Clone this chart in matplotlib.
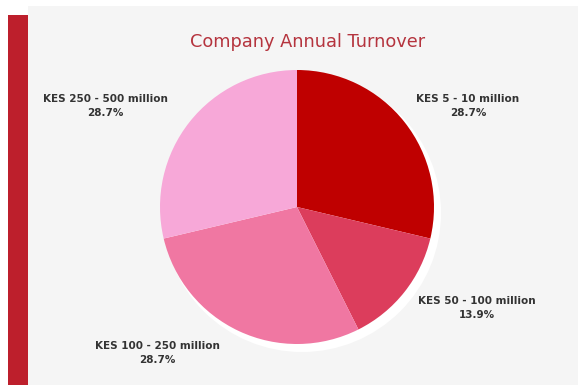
import matplotlib.pyplot as plt
from matplotlib.patches import Rectangle, Circle

# data
labels = ["KES 5 - 10 million", "KES 50 - 100 million",
          "KES 100 - 250 million", "KES 250 - 500 million"]
shares = [28.7, 13.9, 28.7, 28.7]
colors = ["#bf0000", "#dc3d5c", "#f077a2", "#f7a8d8"]

W, H = 578, 385
fig = plt.figure(figsize=(W / 100, H / 100), dpi=100)
fig.patch.set_facecolor("white")
ax = fig.add_axes([0, 0, 1, 1])

# background panel and left red bar
ax.add_patch(Rectangle((28, 0), W - 28, H - 6, facecolor="#f5f5f5", edgecolor="none", zorder=0))
ax.add_patch(Rectangle((8, 0), 20, H - 15, facecolor="#bd1f2c", edgecolor="none", zorder=0))

cx, cy, r = 297, H - 207, 137

# white shadow behind pie
ax.add_patch(Circle((cx + 5, cy - 6), r + 2, facecolor="white", edgecolor="none", zorder=1))

wedges, _ = ax.pie(shares, colors=colors, startangle=90, counterclock=False,
                   center=(cx, cy), radius=r, frame=True,
                   wedgeprops=dict(linewidth=0))
for w in wedges:
    w.set_zorder(2)
ax.set_xlim(0, W)
ax.set_ylim(0, H)
ax.set_aspect("auto")
ax.axis("off")

ax.text(308, H - 42, "Company Annual Turnover", ha="center", va="center",
        fontsize=12.8, color="#b5343e")

label_pos = [(468, H - 106), (477, H - 308), (157, H - 353), (105, H - 106)]
for lab, val, (x, y) in zip(labels, shares, label_pos):
    ax.text(x, y, f"{lab}\n{val}%", ha="center", va="center", fontsize=7.5,
            fontweight="bold", color="#333333", linespacing=1.55)

fig.savefig("out.png", dpi=100)
